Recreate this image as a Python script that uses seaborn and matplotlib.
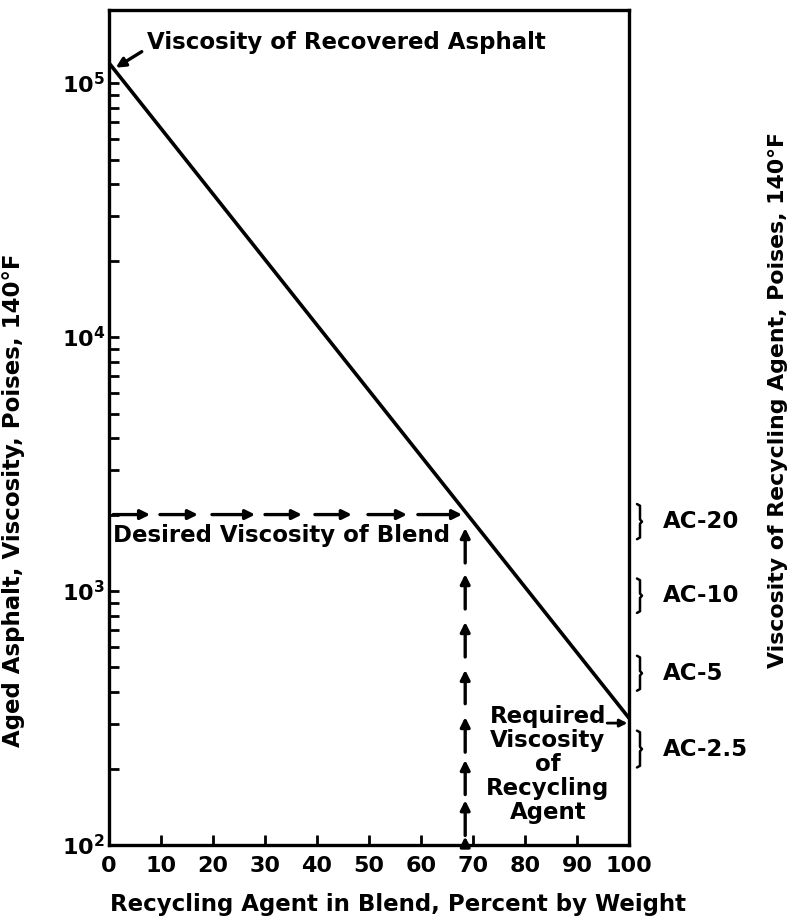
import numpy as np
import pandas as pd
import matplotlib
matplotlib.use("Agg")
import matplotlib.pyplot as plt
import matplotlib.ticker as mticker
import matplotlib.transforms as mtrans
import seaborn as sns

# ---------------- data ----------------
blend_pct = [0, 100]                      # recycling agent in blend, % by weight
blend_visc = [120000, 316]                # viscosity, poises at 140F
desired_visc = 2000
desired_pct = 68.5
h_arrow_start = [0.8, 9.8, 19.8, 30.0, 39.6, 49.8, 59.4]
h_arrow_end = [7.9, 17.1, 28.1, 37.1, 46.7, 57.3, 67.9]
v_arrow_start = [1290, 850, 550, 360, 232, 158, 109, 100]
v_arrow_end = [1770, 1166, 755, 489, 319, 216, 150, 108]
grades = ["AC-20", "AC-10", "AC-5", "AC-2.5"]
grade_low = [1600, 820, 405, 202]
grade_high = [2200, 1120, 556, 282]
x_ticks = [0, 10, 20, 30, 40, 50, 60, 70, 80, 90, 100]
y_major = [1e2, 1e3, 1e4, 1e5]

# ---------------- style ----------------
sns.set_theme(style="ticks")
plt.rcParams["font.family"] = ["DejaVu Sans"]
plt.rcParams["font.weight"] = "bold"
plt.rcParams["mathtext.fontset"] = "dejavusans"
for k in ["text.color", "axes.labelcolor", "xtick.color", "ytick.color",
          "axes.edgecolor"]:
    plt.rcParams[k] = "black"

FS = 16.5

fig = plt.figure(figsize=(7.91, 9.19), dpi=100)
ax = fig.add_axes([109 / 791, 74 / 919, 520 / 791, 835 / 919])

df = pd.DataFrame({"pct": blend_pct, "visc": blend_visc})
sns.lineplot(data=df, x="pct", y="visc", ax=ax, color="black", lw=2.6)

ax.set_yscale("log")
ax.set_xlim(0, 100)
ax.set_ylim(100, 1.94e5)

for s in ax.spines.values():
    s.set_linewidth(2.4)
    s.set_color("black")

ax.set_xticks(x_ticks)
ax.set_xticklabels([str(v) for v in x_ticks], fontsize=16, fontweight="bold")
ax.yaxis.set_major_locator(mticker.FixedLocator(y_major))
ax.yaxis.set_major_formatter(
    mticker.FuncFormatter(lambda v, p: r"$\mathbf{10^{%d}}$" % round(np.log10(v))))
ax.yaxis.set_minor_locator(mticker.LogLocator(base=10, subs=np.arange(2, 10)))
ax.yaxis.set_minor_formatter(mticker.NullFormatter())
ax.tick_params(axis="both", which="both", direction="in", color="black",
               labelcolor="black", width=2, length=7, labelsize=16, pad=5)
ax.tick_params(axis="y", which="major", pad=3)
ax.tick_params(axis="x", which="major", pad=8)

ax.set_xlabel("Recycling Agent in Blend, Percent by Weight", fontsize=FS,
              fontweight="bold", color="black")
ax.xaxis.set_label_coords(0.556, -0.0575)
ax.set_ylabel("Aged Asphalt, Viscosity, Poises, 140°F", fontsize=FS,
              fontweight="bold", color="black")
ax.yaxis.set_label_coords(-0.162, 0.413)
fig.text(778 / 791, 1 - 400 / 919, "Viscosity of Recycling Agent, Poises, 140°F",
         rotation=90, ha="center", va="center", fontsize=15.8, fontweight="bold",
         color="black")

aprops = dict(arrowstyle="-|>", color="black", lw=2.4, mutation_scale=14,
              shrinkA=0, shrinkB=0)

# horizontal dashed arrows
for x0, x1 in zip(h_arrow_start, h_arrow_end):
    ax.annotate("", xy=(x1, desired_visc), xytext=(x0, desired_visc), arrowprops=aprops)
# vertical dashed arrows
for y0, y1 in zip(v_arrow_start, v_arrow_end):
    ax.annotate("", xy=(desired_pct, y1), xytext=(desired_pct, y0), arrowprops=aprops)

# annotations
ax.text(7.3, 1.44e5, "Viscosity of Recovered Asphalt", fontsize=FS,
        fontweight="bold", ha="left", va="center", color="black")
ax.annotate("", xy=(1.3, 1.15e5), xytext=(6.3, 1.33e5),
            arrowprops=dict(arrowstyle="-|>", color="black", lw=2.4,
                            mutation_scale=14, shrinkA=0, shrinkB=0))
ax.text(0.8, 1650, "Desired Viscosity of Blend", fontsize=FS,
        fontweight="bold", ha="left", va="center", color="black")
ax.text(84.4, 207, "Required\nViscosity\nof\nRecycling\nAgent", fontsize=FS,
        fontweight="bold", ha="center", va="center", linespacing=1.06,
        color="black")
ax.annotate("", xy=(99.7, 302), xytext=(95.8, 302),
            arrowprops=dict(arrowstyle="-|>", color="black", lw=2,
                            mutation_scale=11, shrinkA=0, shrinkB=0))

# grade braces on the right
trans = mtrans.blended_transform_factory(ax.transAxes, ax.transData)
for name, lo, hi in zip(grades, grade_low, grade_high):
    x0 = 1.0 + 8 / 520
    w = 5 / 520
    mid = np.sqrt(lo * hi)
    bx = [x0, x0 + w * 0.6, x0 + w * 0.6, x0 + w, x0 + w * 0.6, x0 + w * 0.6, x0]
    by = [hi, hi * 0.985, mid * 1.02, mid, mid / 1.02, lo / 0.985, lo]
    ax.plot(bx, by, color="black", lw=1.8, transform=trans, clip_on=False,
            solid_joinstyle="round")
    ax.text(1.0 + 34 / 520, mid, name, fontsize=FS, fontweight="bold",
            ha="left", va="center", transform=trans, color="black")

fig.savefig("out.png", dpi=100)
